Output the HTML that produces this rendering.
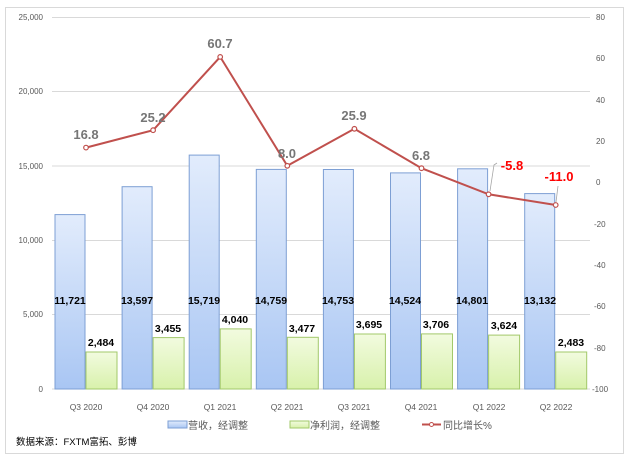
<!DOCTYPE html>
<html><head><meta charset="utf-8"><style>
body{margin:0;background:#fff;}
svg{display:block;font-family:"Liberation Sans","Noto Sans CJK SC",sans-serif;}
</style></head><body>
<svg width="635" height="464" viewBox="0 0 635 464">
<defs>
<linearGradient id="gb" x1="0" y1="0" x2="0" y2="1"><stop offset="0" stop-color="#e2ecfc"/><stop offset="1" stop-color="#a9c6f3"/></linearGradient>
<linearGradient id="gg" x1="0" y1="0" x2="0" y2="1"><stop offset="0" stop-color="#f2fbdf"/><stop offset="1" stop-color="#d8f1ab"/></linearGradient>
</defs>
<rect x="5.5" y="7.5" width="618" height="446" fill="#fff" stroke="#d9d9d9"/>
<g stroke="#d9d9d9" stroke-width="1">
<line x1="52" x2="590" y1="17.5" y2="17.5"/><line x1="52" x2="590" y1="91.5" y2="91.5"/><line x1="52" x2="590" y1="166" y2="166"/><line x1="52" x2="590" y1="240.5" y2="240.5"/><line x1="52" x2="590" y1="314.5" y2="314.5"/><line x1="52" x2="590" y1="389" y2="389"/>
</g>
<g font-size="8" fill="#595959" text-anchor="end">
<text x="43" y="20">25,000</text><text x="43" y="94">20,000</text><text x="43" y="169">15,000</text><text x="43" y="243">10,000</text><text x="43" y="317">5,000</text><text x="43" y="392">0</text>
</g>
<g font-size="8" fill="#595959" text-anchor="start">
<text x="596" y="20">80</text><text x="596" y="61">60</text><text x="596" y="103">40</text><text x="596" y="144">20</text><text x="596" y="185">0</text><text x="594" y="227">-20</text><text x="594" y="268">-40</text><text x="594" y="309">-60</text><text x="594" y="351">-80</text><text x="592" y="392">-100</text>
</g>
<g id="bars" stroke-width="1">
<!-- blue bars: x=c-31 width 30 ; heights: v*0.01488 -->
<rect x="55" y="214.6" width="30" height="174.4" fill="url(#gb)" stroke="#7d9fd4"/>
<rect x="122.1" y="186.7" width="30" height="202.3" fill="url(#gb)" stroke="#7d9fd4"/>
<rect x="189.2" y="155.1" width="30" height="233.9" fill="url(#gb)" stroke="#7d9fd4"/>
<rect x="256.3" y="169.4" width="30" height="219.6" fill="url(#gb)" stroke="#7d9fd4"/>
<rect x="323.4" y="169.5" width="30" height="219.5" fill="url(#gb)" stroke="#7d9fd4"/>
<rect x="390.5" y="172.9" width="30" height="216.1" fill="url(#gb)" stroke="#7d9fd4"/>
<rect x="457.6" y="168.8" width="30" height="220.2" fill="url(#gb)" stroke="#7d9fd4"/>
<rect x="524.7" y="193.6" width="30" height="195.4" fill="url(#gb)" stroke="#7d9fd4"/>
<rect x="86" y="352" width="31" height="37" fill="url(#gg)" stroke="#a2c86a"/>
<rect x="153.1" y="337.6" width="31" height="51.4" fill="url(#gg)" stroke="#a2c86a"/>
<rect x="220.2" y="328.9" width="31" height="60.1" fill="url(#gg)" stroke="#a2c86a"/>
<rect x="287.3" y="337.3" width="31" height="51.7" fill="url(#gg)" stroke="#a2c86a"/>
<rect x="354.4" y="334" width="31" height="55" fill="url(#gg)" stroke="#a2c86a"/>
<rect x="421.5" y="333.9" width="31" height="55.1" fill="url(#gg)" stroke="#a2c86a"/>
<rect x="488.6" y="335.1" width="31" height="53.9" fill="url(#gg)" stroke="#a2c86a"/>
<rect x="555.7" y="352" width="31" height="37" fill="url(#gg)" stroke="#a2c86a"/>
</g>
<g font-size="10.5" font-weight="bold" fill="#000" text-anchor="middle">
<text x="70" y="304">11,721</text><text x="137" y="304">13,597</text><text x="204" y="304">15,719</text><text x="271" y="304">14,759</text><text x="338" y="304">14,753</text><text x="405" y="304">14,524</text><text x="472" y="304">14,801</text><text x="540" y="304">13,132</text>
<text x="101" y="346">2,484</text><text x="168" y="332">3,455</text><text x="235" y="323">4,040</text><text x="302" y="332">3,477</text><text x="369" y="328">3,695</text><text x="436" y="328">3,706</text><text x="504" y="329">3,624</text><text x="571" y="346">2,483</text>
</g>
<polyline fill="none" stroke="#c0504d" stroke-width="2" points="86,147.6 153.1,130.2 220.2,56.9 287.3,165.8 354.4,128.8 421.5,168.2 488.6,194.3 555.7,205"/>
<g fill="#fff" stroke="#c0504d" stroke-width="1.2">
<circle cx="86" cy="147.6" r="2.3"/><circle cx="153.1" cy="130.2" r="2.3"/><circle cx="220.2" cy="56.9" r="2.3"/><circle cx="287.3" cy="165.8" r="2.3"/><circle cx="354.4" cy="128.8" r="2.3"/><circle cx="421.5" cy="168.2" r="2.3"/><circle cx="488.6" cy="194.3" r="2.3"/><circle cx="555.7" cy="205" r="2.3"/>
</g>
<polyline fill="none" stroke="#a6a6a6" stroke-width="0.8" points="490,191 494,165 497,163"/>
<line x1="556" y1="202" x2="558" y2="186" stroke="#a6a6a6" stroke-width="0.8"/>
<g font-size="13" font-weight="bold" text-anchor="middle">
<text x="86" y="139" fill="#767676">16.8</text><text x="153" y="122" fill="#767676">25.2</text><text x="220" y="48" fill="#767676">60.7</text><text x="287" y="158" fill="#767676">8.0</text><text x="354" y="120" fill="#767676">25.9</text><text x="421" y="160" fill="#767676">6.8</text>
<text x="512" y="170" fill="#ff0000">-5.8</text><text x="559" y="181" fill="#ff0000">-11.0</text>
</g>
<g font-size="8.5" fill="#595959" text-anchor="middle">
<text x="86" y="410">Q3 2020</text><text x="153" y="410">Q4 2020</text><text x="220" y="410">Q1 2021</text><text x="287" y="410">Q2 2021</text><text x="354" y="410">Q3 2021</text><text x="421" y="410">Q4 2021</text><text x="489" y="410">Q1 2022</text><text x="556" y="410">Q2 2022</text>
</g>
<g font-size="10" fill="#595959">
<rect x="168" y="421" width="19" height="7" fill="url(#gb)" stroke="#7d9fd4"/>
<text x="188" y="429">营收，经调整</text>
<rect x="290" y="421" width="19" height="7" fill="url(#gg)" stroke="#a2c86a"/>
<text x="310" y="429">净利润，经调整</text>
<line x1="422" y1="424.5" x2="441" y2="424.5" stroke="#c0504d" stroke-width="2"/>
<circle cx="431.5" cy="424.5" r="2" fill="#fff" stroke="#c0504d"/>
<text x="443" y="429">同比增长%</text>
</g>
<text x="16" y="445" font-size="9.5" fill="#000">数据来源：FXTM富拓、彭博</text>
</svg>
</body></html>
